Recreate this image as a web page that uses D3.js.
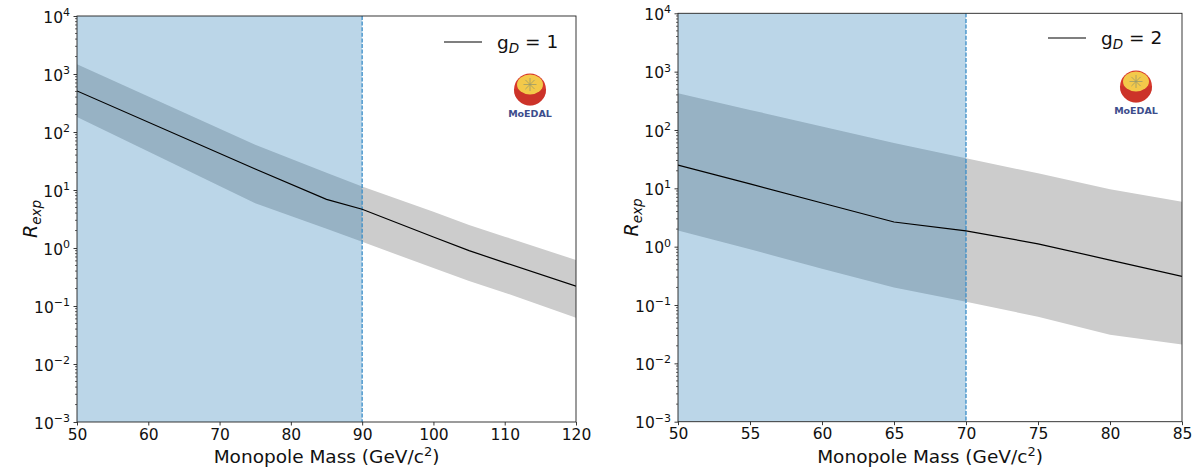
<!DOCTYPE html>
<html>
<head>
<meta charset="utf-8">
<script src="https://cdn.jsdelivr.net/npm/d3@7"></script>
<style>
  html, body { margin: 0; padding: 0; background: #fff; }
  svg { display: block; font-family: "DejaVu Sans", sans-serif; }
</style>
</head>
<body>
<svg id="chart" width="1200" height="474"></svg>
<script>
// ---- data ----
const leftMass    = [50, 75, 85, 90, 100, 105, 110, 120];
const leftCentral = [510, 23, 6.9, 4.65, 1.55, 0.9, 0.56, 0.22];
const leftUpper   = [1470, 60, 19.8, 11.5, 4.2, 2.5, 1.57, 0.62];
const leftLower   = [181, 5.9, 2.14, 1.28, 0.45, 0.27, 0.17, 0.063];

const rightMass    = [50, 55, 60, 65, 70, 75, 80, 85];
const rightCentral = [25, 11.9, 5.6, 2.65, 1.86, 1.12, 0.59, 0.31];
const rightUpper   = [426, 221, 115, 60, 32.7, 18.1, 9.6, 5.9];
const rightLower   = [1.9, 0.9, 0.42, 0.2, 0.114, 0.063, 0.031, 0.021];

const leftXTicks  = [50, 60, 70, 80, 90, 100, 110, 120];
const rightXTicks = [50, 55, 60, 65, 70, 75, 80, 85];
const yTickExponents = [-3, -2, -1, 0, 1, 2, 3, 4];

const leftExcludedMass  = 90;
const rightExcludedMass = 70;
const leftLegend  = "1";
const rightLegend = "2";
const xAxisTitle = "Monopole Mass (GeV/c";

// ---- drawing ----
const svg = d3.select("#chart");

function drawPanel(p) {
  const g = svg.append("g");
  const x = d3.scaleLinear().domain(p.xDomain).range([p.left, p.right]);
  const y = d3.scaleLog().domain([1e-3, 1e4]).range([p.bottom, p.top]);

  const clipId = "clip" + p.id;
  g.append("clipPath").attr("id", clipId).append("rect")
    .attr("x", p.left).attr("y", p.top)
    .attr("width", p.right - p.left).attr("height", p.bottom - p.top);
  const plot = g.append("g").attr("clip-path", `url(#${clipId})`);

  const rows = p.mass.map((m, i) => ({ m, c: p.central[i], u: p.upper[i], l: p.lower[i] }));

  // uncertainty band
  plot.append("path").datum(rows)
    .attr("d", d3.area().x(d => x(d.m)).y0(d => y(d.l)).y1(d => y(d.u)))
    .attr("fill", "#cccccc");

  // excluded region
  plot.append("rect")
    .attr("x", x(p.xDomain[0])).attr("y", p.top)
    .attr("width", x(p.excluded) - x(p.xDomain[0]))
    .attr("height", p.bottom - p.top)
    .attr("fill", "#1f77b4").attr("fill-opacity", 0.3);

  plot.append("line")
    .attr("x1", x(p.excluded)).attr("x2", x(p.excluded))
    .attr("y1", p.top).attr("y2", p.bottom)
    .attr("stroke", "#3a8dc8").attr("stroke-width", 1.3)
    .attr("stroke-dasharray", "4,1.6");

  // central line
  plot.append("path").datum(rows)
    .attr("d", d3.line().x(d => x(d.m)).y(d => y(d.c)))
    .attr("fill", "none").attr("stroke", "#000").attr("stroke-width", 1.2);

  // frame
  g.append("rect")
    .attr("x", p.left).attr("y", p.top)
    .attr("width", p.right - p.left).attr("height", p.bottom - p.top)
    .attr("fill", "none").attr("stroke", "#222").attr("stroke-width", 0.9);

  // x axis
  const xAxis = g.append("g").attr("transform", `translate(0,${p.bottom})`)
    .call(d3.axisBottom(x).tickValues(p.xTicks).tickSize(3.5).tickPadding(3).tickFormat(d3.format("d")));
  xAxis.select(".domain").remove();
  xAxis.selectAll(".tick line").attr("stroke", "#222").attr("stroke-width", 0.9);
  xAxis.selectAll(".tick text").attr("font-size", 15.5).attr("fill", "#111")
    .attr("font-family", "DejaVu Sans");

  // y axis major ticks
  const yAxis = g.append("g").attr("transform", `translate(${p.left},0)`)
    .call(d3.axisLeft(y).tickValues(yTickExponents.map(e => Math.pow(10, e))).tickSize(3.5).tickPadding(3.5).tickFormat(""));
  yAxis.select(".domain").remove();
  yAxis.selectAll(".tick line").attr("stroke", "#222").attr("stroke-width", 0.9);
  yAxis.selectAll(".tick").each(function (d) {
    const e = Math.round(Math.log10(d));
    const t = d3.select(this).select("text")
      .attr("font-size", 15.5).attr("fill", "#111").attr("dy", "0.4em")
      .attr("font-family", "DejaVu Sans");
    t.text(null);
    t.append("tspan").text("10");
    t.append("tspan").attr("font-size", 11).attr("dy", "-0.62em")
      .text(e < 0 ? "\u2212" + (-e) : String(e));
  });

  // y minor ticks
  const minor = [];
  for (let e = -3; e < 4; e++) for (let k = 2; k <= 9; k++) minor.push(k * Math.pow(10, e));
  g.append("g").selectAll("line").data(minor).join("line")
    .attr("x1", p.left - 2).attr("x2", p.left)
    .attr("y1", d => y(d)).attr("y2", d => y(d))
    .attr("stroke", "#222").attr("stroke-width", 0.7);

  // axis titles
  const xt = g.append("text")
    .attr("x", (p.left + p.right) / 2).attr("y", p.bottom + 41)
    .attr("text-anchor", "middle").attr("font-size", 18.5).attr("fill", "#111");
  xt.append("tspan").text(xAxisTitle);
  xt.append("tspan").attr("font-size", 13).attr("dy", "-0.55em").text("2");
  xt.append("tspan").attr("dy", "0.38em").text(")");

  const yt = g.append("text")
    .attr("transform", `translate(${p.left - 40},${(p.top + p.bottom) / 2}) rotate(-90)`)
    .attr("text-anchor", "middle").attr("font-size", 19).attr("fill", "#111")
    .attr("font-style", "italic");
  yt.append("tspan").text("R");
  yt.append("tspan").attr("font-size", 13.5).attr("dy", "0.3em").text("exp");

  // legend
  g.append("line")
    .attr("x1", p.legendX).attr("x2", p.legendX + 38)
    .attr("y1", p.legendY).attr("y2", p.legendY)
    .attr("stroke", "#000").attr("stroke-width", 1.2);
  const lt = g.append("text")
    .attr("x", p.legendX + 53).attr("y", p.legendY + 6.5)
    .attr("font-size", 18.5).attr("fill", "#111");
  lt.append("tspan").text("g");
  lt.append("tspan").attr("font-size", 13.5).attr("dy", "0.3em").attr("font-style", "italic").text("D");
  lt.append("tspan").attr("dy", "-0.22em").text(" = " + p.legendText);

  // MoEDAL logo
  const lg = g.append("g").attr("transform", `translate(${p.logoX},${p.logoY})`);
  lg.append("circle").attr("r", 16).attr("fill", "#d8382c");
  lg.append("path").attr("d", "M-16,0 A16,16 0 0 0 16,0 Z").attr("fill", "#c02e26").attr("opacity", 0.5);
  lg.append("ellipse").attr("cx", 0).attr("cy", -5).attr("rx", 13).attr("ry", 10)
    .attr("fill", "#f3c94a");
  const star = lg.append("g").attr("transform", "translate(0,-5)")
    .attr("stroke", "#9a9a6a").attr("stroke-width", 0.8);
  for (let a = 0; a < 8; a++) {
    const ang = a * Math.PI / 4;
    star.append("line").attr("x1", 0).attr("y1", 0)
      .attr("x2", 6.5 * Math.cos(ang)).attr("y2", 6.5 * Math.sin(ang));
  }
  lg.append("text").attr("y", 27).attr("text-anchor", "middle")
    .attr("font-size", 9.5).attr("font-weight", "bold").attr("fill", "#3d4d8c")
    .attr("font-family", "DejaVu Sans").text("MoEDAL");
}

drawPanel({
  id: "L", left: 77, right: 576, top: 16, bottom: 422,
  xDomain: [50, 120], xTicks: leftXTicks,
  mass: leftMass, central: leftCentral, upper: leftUpper, lower: leftLower,
  excluded: leftExcludedMass, legendText: leftLegend,
  legendX: 444, legendY: 42, logoX: 530, logoY: 89.5
});
drawPanel({
  id: "R", left: 678, right: 1182, top: 13.3, bottom: 421.7,
  xDomain: [50, 85], xTicks: rightXTicks,
  mass: rightMass, central: rightCentral, upper: rightUpper, lower: rightLower,
  excluded: rightExcludedMass, legendText: rightLegend,
  legendX: 1048, legendY: 38, logoX: 1136, logoY: 86.5
});
</script>
</body>
</html>
